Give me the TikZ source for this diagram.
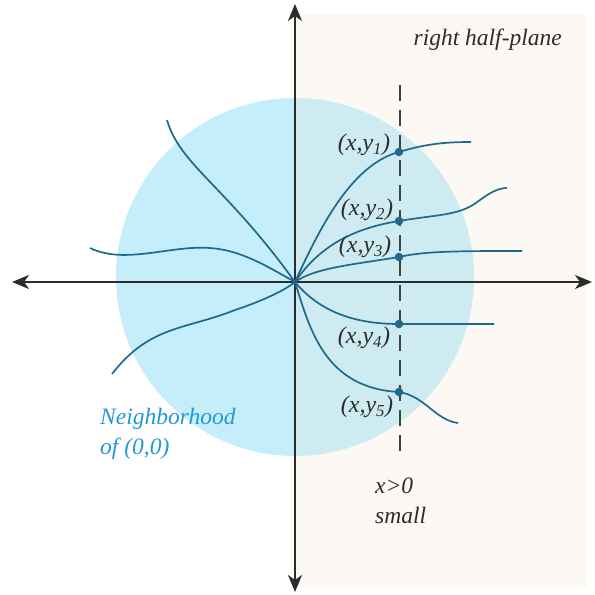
\documentclass[tikz,border=0pt]{standalone}
\usepackage{fontspec}
\setmainfont{Liberation Serif}
\usetikzlibrary{arrows.meta}
\definecolor{beige}{HTML}{FCF9F4}
\definecolor{nbblue}{HTML}{C6EDFA}
\definecolor{nbblue2}{HTML}{CDEBF1}
\definecolor{curve}{HTML}{1F6A8C}
\definecolor{axis}{HTML}{2E2B2B}
\definecolor{lblue}{HTML}{2399D3}
\tikzset{
  axisline/.style={draw=axis, line width=1.8pt, -{Stealth[length=17pt,width=14pt,inset=5pt]}},
  traj/.style={draw=curve, line width=1.7pt},
  dot/.style={circle, fill=curve, inner sep=0pt, minimum size=8.5pt},
  lab/.style={font=\fontsize{24}{28}\selectfont\itshape, text=axis, inner sep=0pt},
  rlab/.style={font=\fontsize{23.5}{28}\selectfont\itshape, text=axis, inner sep=0pt},
  blab/.style={font=\fontsize{23.5}{30}\selectfont\itshape, text=lblue, inner sep=0pt, align=left},
  klab/.style={font=\fontsize{23.5}{30}\selectfont\itshape, text=axis, inner sep=0pt, align=left},
  dash line/.style={draw=axis!90, line width=1.6pt, dash pattern=on 16pt off 9pt}
}
\begin{document}
\begin{tikzpicture}[x=1pt,y=-1pt]
\useasboundingbox (0,0) rectangle (595,595);
% background region
\fill[beige] (295,14) rectangle (587,587);
% neighborhood disc
\begin{scope}
  \clip (0,0) rectangle (295,595);
  \fill[nbblue] (295,277) circle[radius=179];
\end{scope}
\begin{scope}
  \clip (295,0) rectangle (595,595);
  \fill[nbblue2] (295,277) circle[radius=179];
\end{scope}
% axes
\coordinate (O) at (295,282);
\coordinate (xl) at (12,282);
\coordinate (xr) at (592,282);
\coordinate (yt) at (295,4);
\coordinate (yb) at (295,592);
\draw[axisline] (O) -- (xl);
\draw[axisline] (O) -- (xr);
\draw[axisline] (O) -- (yt);
\draw[axisline] (O) -- (yb);
% dashed line
\coordinate (dt) at (400,85);
\coordinate (db) at (400,453);
\draw[dash line] (dt) -- (db);
% dots
\node[dot] (p1) at (399,152) {};
\node[dot] (p2) at (399,221) {};
\node[dot] (p3) at (399,257) {};
\node[dot] (p4) at (399,324) {};
\node[dot] (p5) at (399,392) {};
% ends
\coordinate (e1) at (471,142);
\coordinate (e2) at (507,188);
\coordinate (e3) at (522,251);
\coordinate (e4) at (494,324);
\coordinate (e5) at (458,423);
\coordinate (a) at (167,120);
\coordinate (b) at (90,248);
\coordinate (c) at (112,374);
% right trajectories
\draw[traj] (O) .. controls (318,232) and (350,165) .. (p1.center) .. controls (425,144) and (445,142) .. (e1);
\draw[traj] (O) .. controls (320,245) and (355,228) .. (p2.center) .. controls (440,214) and (460,216) .. (480,200) .. controls (492,191) and (500,188) .. (e2);
\draw[traj] (O) .. controls (315,268) and (350,265) .. (p3.center) .. controls (425,251) and (460,251) .. (e3);
\draw[traj] (O) .. controls (320,312) and (355,324) .. (p4.center) .. controls (430,324) and (460,324) .. (e4);
\draw[traj] (O) .. controls (310,330) and (325,388) .. (p5.center) .. controls (425,396) and (435,420) .. (e5);
% left trajectories
\draw[traj] (a) .. controls (180,165) and (225,185) .. (O);
\draw[traj] (b) .. controls (125,265) and (170,245) .. (210,248) .. controls (240,250) and (265,265) .. (O);
\draw[traj] (c) .. controls (150,325) and (185,330) .. (235,310) .. controls (265,300) and (285,290) .. (O);
% labels
\node[lab] (l1) at (364,145) {(x,y\textsubscript{1})};
\node[lab] (l2) at (367,210) {(x,y\textsubscript{2})};
\node[lab] (l3) at (365,247) {(x,y\textsubscript{3})};
\node[lab] (l4) at (364,338) {(x,y\textsubscript{4})};
\node[lab] (l5) at (367,407) {(x,y\textsubscript{5})};
\node[rlab, anchor=east] (rhp) at (562,40) {right half-plane};
\node[blab, anchor=north west] (nb) at (100,408) {Neighborhood\\of (0,0)};
\node[klab, anchor=north west] (xs) at (375,478) {x>0\\small};
\end{tikzpicture}
\end{document}
